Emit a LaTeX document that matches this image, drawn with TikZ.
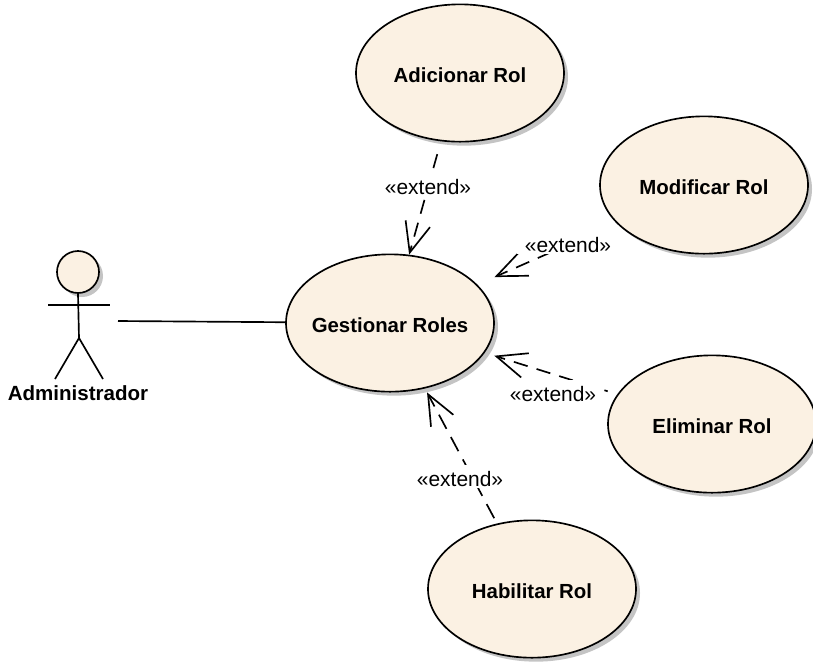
\documentclass[tikz,border=0pt]{standalone}
\usepackage{fontspec}
\setmainfont{Liberation Sans}
\usetikzlibrary{arrows.meta,shapes.geometric,shadows}

\tikzset{
  usecase/.style={ellipse,draw=black,line width=1.25pt,fill=rolefill,minimum width=156pt,minimum height=103pt,
    inner xsep=-5pt,inner ysep=0pt,text height=13.5pt,text depth=0pt,font=\fontsize{15.3}{17}\selectfont\bfseries,
    drop shadow={shadow xshift=3pt,shadow yshift=-3pt,fill=rolegray,opacity=1}},
  extendline/.style={line width=1.25pt,dash pattern=on 10.8pt off 7pt,-{Straight Barb[length=22.5pt,width=19pt]}},
  extendlabel/.style={fill=white,inner xsep=6pt,inner ysep=0.4pt,text height=16pt,text depth=0.5pt,font=\fontsize{15.7}{17}\selectfont},
  actorline/.style={line width=1.25pt},
}
\definecolor{rolefill}{HTML}{FBF1E3}
\definecolor{rolegray}{HTML}{C4C4C4}

\begin{document}
\begin{tikzpicture}[x=0.75pt,y=-0.75pt]
  \useasboundingbox (0,0) rectangle (813,662);
  % Use cases
  \node[usecase] (G) at (390,323) {Gestionar Roles};
  \node[usecase] (A) at (460,73)  {Adicionar Rol};
  \node[usecase] (M) at (704,185) {Modificar Rol};
  \node[usecase] (E) at (712,424) {Eliminar Rol};
  \node[usecase] (H) at (532,589) {Habilitar Rol};
  % Actor
  \node[circle,draw=black,line width=1.25pt,fill=rolefill,minimum size=31.5pt,inner sep=0pt,
    drop shadow={shadow xshift=3pt,shadow yshift=-3pt,fill=rolegray,opacity=1}] (head) at (78,272) {};
  \coordinate (hip) at (79,338);
  \coordinate (assoc) at (118,321);
  \draw[actorline] (head.south) -- (hip);
  \draw[actorline] (48,305) -- (110,305);
  \draw[actorline] (55,379) -- (hip) -- (103,379);
  \node[font=\fontsize{15.4}{17}\selectfont\bfseries] (admin) at (78,393) {Administrador};
  \draw[actorline] (assoc) -- (G);
  % Extend connectors, labels go on top of them
  \draw[extendline,shorten <=10pt] (A) -- (G);
  \draw[extendline,shorten <=36pt,shorten >=14pt] (M) -- (G);
  \draw[extendline,shorten <=7.5pt,shorten >=7.5pt,dash phase=8.25pt] (E) -- (G);
  \draw[extendline,shorten <=4.5pt,shorten >=3.3pt,dash pattern=on 12pt off 7pt] (H) -- (G);
  \node[extendlabel] (la) at (428,184.5) {«extend»};
  \node[extendlabel] (lm) at (568,242.5) {«extend»};
  \node[extendlabel] (le) at (553,391.5) {«extend»};
  \node[extendlabel] (lh) at (460,476.5) {«extend»};
\end{tikzpicture}
\end{document}
